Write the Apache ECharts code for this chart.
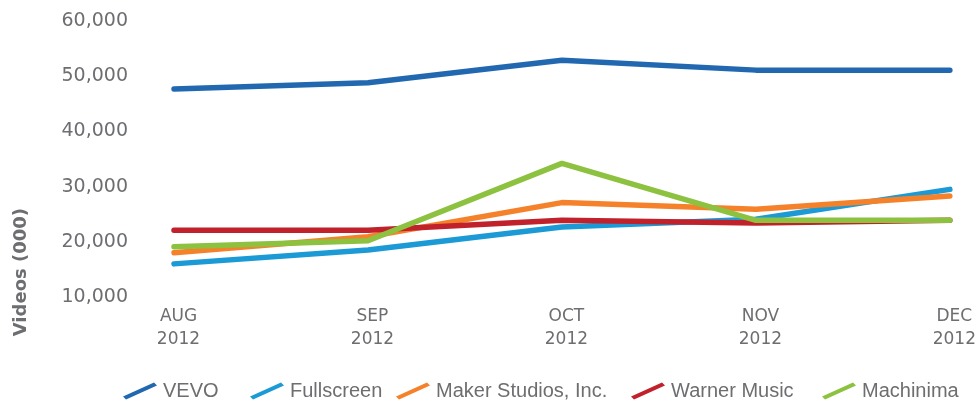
<!DOCTYPE html>
<html>
<head>
<meta charset="utf-8">
<script src="https://cdn.jsdelivr.net/npm/echarts@6/dist/echarts.min.js"></script>
<style>
  html, body { margin: 0; padding: 0; background: #fff; }
  #chart { width: 979px; height: 402px; }
</style>
</head>
<body>
<div id="chart"></div>
<script>
// data
const months = ['AUG\n2012', 'SEP\n2012', 'OCT\n2012', 'NOV\n2012', 'DEC\n2012']
const vevo = [47700, 48800, 52900, 51100, 51100]
const fullscreen = [16000, 18500, 22700, 24100, 29500]
const maker = [18000, 20900, 27100, 25900, 28300]
const warner = [22100, 22100, 23900, 23400, 23900]
const machinima = [19100, 20200, 34200, 23900, 23900]

const names = ['VEVO', 'Fullscreen', 'Maker Studios, Inc.', 'Warner Music', 'Machinima']
const colors = ['#2268b1', '#1b9ad6', '#f5822a', '#c0212b', '#8cc23f']
const legendLeft = [118, 245, 391, 626, 817]

const textGray = '#6d6e71'
const slash = 'path://M0,14 L31,0 L34,3 L3,17 Z'

const seriesData = [vevo, fullscreen, maker, warner, machinima]

const option = {
  animation: false,
  color: colors,
  grid: { left: 174, right: 27, top: 21, bottom: 105 },
  legend: names.map((n, i) => ({
    data: [n],
    left: legendLeft[i],
    top: 376,
    icon: slash,
    itemWidth: 36,
    itemHeight: 17,
    itemGap: 0,
    textStyle: {
      color: textGray,
      fontSize: 20,
      fontFamily: 'Liberation Sans'
    }
  })),
  xAxis: {
    type: 'category',
    boundaryGap: false,
    data: months,
    axisLine: { show: false },
    axisTick: { show: false },
    axisLabel: {
      color: textGray,
      fontSize: 17,
      lineHeight: 23,
      margin: 8,
      padding: [0, 0, 0, 9],
      fontFamily: 'DejaVu Sans'
    }
  },
  yAxis: {
    type: 'value',
    min: 10000,
    max: 60000,
    interval: 10000,
    splitLine: { show: false },
    axisLine: { show: false },
    axisTick: { show: false },
    axisLabel: {
      color: textGray,
      fontSize: 19,
      margin: 46,
      padding: [4, 0, 0, 0],
      fontFamily: 'DejaVu Sans',
      formatter: v => v.toLocaleString('en-US')
    }
  },
  graphic: [{
    type: 'text',
    left: 12,
    top: 208,
    rotation: Math.PI / 2,
    style: {
      text: 'Videos (000)',
      fill: textGray,
      font: 'bold 18px "DejaVu Sans"'
    }
  }],
  series: names.map((n, i) => ({
    name: n,
    type: 'line',
    data: seriesData[i],
    symbol: 'none',
    lineStyle: { width: 5.5, cap: 'round', join: 'round' }
  }))
}

const chart = echarts.init(document.getElementById('chart'))
chart.setOption(option)
</script>
</body>
</html>
